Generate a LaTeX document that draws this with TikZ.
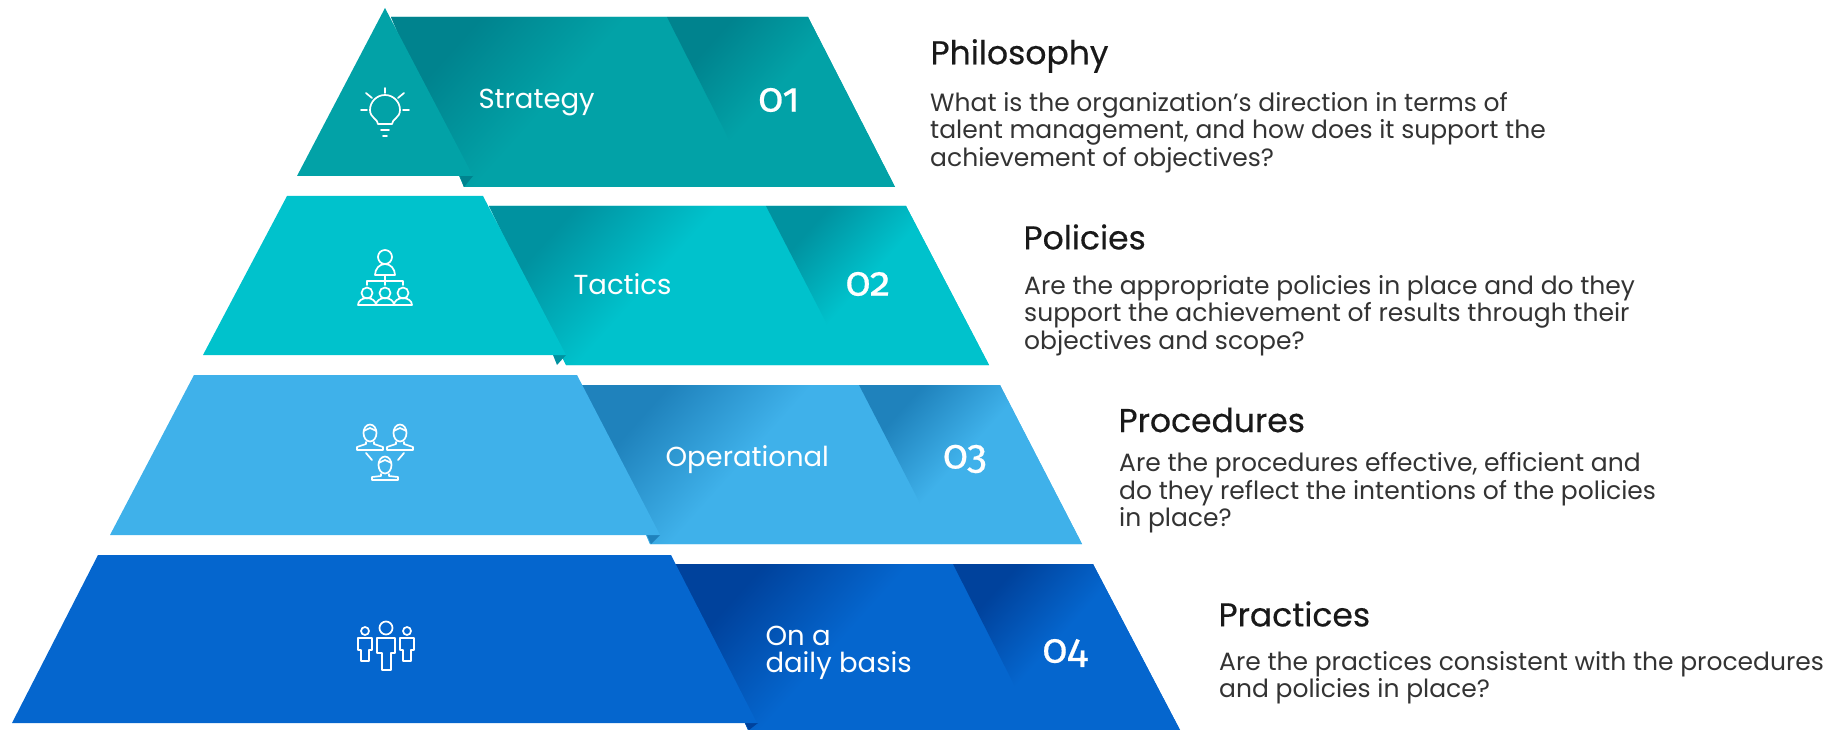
\documentclass[tikz,border=0pt]{standalone}
\usepackage{fontspec}
\setmainfont{Poppins}
\newfontfamily\headfont[FakeBold=0.4]{Poppins}
\newfontfamily\numfont[Numbers=OldStyle,FakeBold=0.5]{Fira Sans}
\definecolor{tealbase}{HTML}{02A2A7}
\definecolor{tealdark}{HTML}{00838E}
\definecolor{cyanbase}{HTML}{00C2CC}
\definecolor{cyandark}{HTML}{0092A0}
\definecolor{skybase}{HTML}{3FB1EA}
\definecolor{skydark}{HTML}{1F82BC}
\definecolor{bluebase}{HTML}{0566CE}
\definecolor{bluedark}{HTML}{00429C}
\colorlet{foldstart}{tealdark}
\colorlet{foldend}{tealbase}
\pgfdeclarehorizontalshading[foldstart,foldend]{foldfade}{100bp}{
  color(0bp)=(foldstart); color(27bp)=(foldstart); color(47bp)=(foldend); color(100bp)=(foldend)}
\tikzset{
  fold/.style n args={2}{/utils/exec={\colorlet{foldstart}{#1}\colorlet{foldend}{#2}}, shading=foldfade, shading angle=-42},
  icon/.style={draw=white, line width=1.7pt, line cap=round, line join=round},
  band/.style={text=white, font=\fontsize{27.5}{27}\selectfont, anchor=west, align=left},
  rank/.style={text=white, font=\numfont\fontsize{41}{42}\selectfont},
  head/.style={text=black!90, font=\headfont\fontsize{33}{35}\selectfont, anchor=west},
  body/.style={text=black!80, font=\fontsize{25}{27.7}\selectfont, anchor=north west, align=left, inner sep=0pt}
}
\begin{document}
\begin{tikzpicture}[x=1pt, y=-1pt]
  \useasboundingbox (0, 0) rectangle (1831, 730);

  % tier 1
  \fill [tealbase] (391, 17) -- (808, 17) -- (895, 187) -- (464, 187) -- cycle;
  \shade [fold={tealdark}{tealbase}] (391, 17) -- (667, 17) -- (753, 187) -- (464, 187) -- cycle;
  \shade [fold={tealdark}{tealbase}] (667, 17) -- (808, 17) -- (895, 187) -- (753, 187) -- cycle;
  \fill [tealdark] (460, 176) -- (473, 176) -- (464, 187) -- cycle;
  \fill [tealbase] (385, 8) -- (473, 176) -- (297, 176) -- cycle;

  % tier 2
  \fill [cyanbase] (489, 206) -- (906, 206) -- (989, 365) -- (566, 365) -- cycle;
  \shade [fold={cyandark}{cyanbase}] (489, 206) -- (766, 206) -- (848, 365) -- (566, 365) -- cycle;
  \shade [fold={cyandark}{cyanbase}] (766, 206) -- (906, 206) -- (989, 365) -- (848, 365) -- cycle;
  \fill [cyandark] (553, 355) -- (566, 355) -- (557, 365) -- cycle;
  \fill [cyanbase] (287, 196) -- (483, 196) -- (566, 355) -- (203, 355) -- cycle;

  % tier 3
  \fill [skybase] (582, 385) -- (1000, 385) -- (1082, 544) -- (650, 544) -- cycle;
  \shade [fold={skydark}{skybase}] (582, 385) -- (859, 385) -- (941, 544) -- (650, 544) -- cycle;
  \shade [fold={skydark}{skybase}] (859, 385) -- (1000, 385) -- (1082, 544) -- (941, 544) -- cycle;
  \fill [skydark] (647, 535) -- (660, 535) -- (651, 544) -- cycle;
  \fill [skybase] (194, 375) -- (577, 375) -- (660, 535) -- (110, 535) -- cycle;

  % tier 4
  \fill [bluebase] (675, 564) -- (1093, 564) -- (1180, 730) -- (748, 730) -- cycle;
  \shade [fold={bluedark}{bluebase}] (675, 564) -- (953, 564) -- (1037, 730) -- (748, 730) -- cycle;
  \shade [fold={bluedark}{bluebase}] (953, 564) -- (1093, 564) -- (1180, 730) -- (1037, 730) -- cycle;
  \fill [bluedark] (745, 723) -- (758, 723) -- (749, 730) -- cycle;
  \fill [bluebase] (98, 555) -- (671, 555) -- (757, 723) -- (12, 723) -- cycle;

  % bulb
  \draw [icon] (378, 124) .. controls (378, 119) and (370, 118) .. (370, 110)
    arc [start angle=180, end angle=360, radius=15]
    .. controls (400, 118) and (392, 119) .. (392, 124) -- cycle;
  \draw [icon] (381, 130) -- (389, 130);
  \draw [icon] (383, 136) -- (387, 136);
  \draw [icon] (385, 88) -- (385, 93);
  \draw [icon] (366, 93) -- (372, 98);
  \draw [icon] (404, 93) -- (398, 98);
  \draw [icon] (361, 110) -- (367, 110);
  \draw [icon] (403, 110) -- (409, 110);

  % hierarchy
  \draw [icon] (385, 257) circle (7);
  \draw [icon] (375, 275) arc [start angle=180, end angle=360, x radius=10, y radius=11] -- cycle;
  \draw [icon] (385, 275) -- (385, 285);
  \draw [icon] (367, 285) -- (367, 281) -- (403, 281) -- (403, 285);
  \draw [icon] (367, 293) circle (5.5);
  \draw [icon] (385, 293) circle (5.5);
  \draw [icon] (403, 293) circle (5.5);
  \draw [icon] (358, 305) arc [start angle=180, end angle=360, x radius=9, y radius=7] -- cycle;
  \draw [icon] (376, 305) arc [start angle=180, end angle=360, x radius=9, y radius=7] -- cycle;
  \draw [icon] (394, 305) arc [start angle=180, end angle=360, x radius=9, y radius=7] -- cycle;

  % team
  \draw [icon] (370, 433) ellipse (6.5 and 8.5);
  \draw [icon] (363.5, 431) -- (370, 428) -- (376.5, 431);
  \draw [icon] (366, 442) -- (366, 444) -- (357, 447) -- (357, 450) -- (383, 450) -- (383, 447) -- (374, 444) -- (374, 442);
  \draw [icon] (400, 433) ellipse (6.5 and 8.5);
  \draw [icon] (393.5, 431) -- (400, 428) -- (406.5, 431);
  \draw [icon] (396, 442) -- (396, 444) -- (387, 447) -- (387, 450) -- (413, 450) -- (413, 447) -- (404, 444) -- (404, 442);
  \draw [icon] (385, 465) ellipse (6.5 and 8.5);
  \draw [icon] (378.5, 463) -- (385, 460) -- (391.5, 463);
  \draw [icon] (381, 474) -- (381, 476) -- (372, 477) -- (372, 480) -- (398, 480) -- (398, 477) -- (389, 476) -- (389, 474);
  \draw [icon] (366, 453) -- (372, 460);
  \draw [icon] (404, 453) -- (398, 460);

  % people
  \draw [icon] (365, 631) circle (4);
  \draw [icon] (358, 638) -- (372, 638) -- (372, 650) -- (369, 650) -- (369, 661) -- (361, 661) -- (361, 650) -- (358, 650) -- cycle;
  \draw [icon] (386, 628) circle (6.5);
  \draw [icon] (377, 638) -- (395, 638) -- (395, 653) -- (391, 653) -- (391, 670) -- (382, 670) -- (382, 653) -- (377, 653) -- cycle;
  \draw [icon] (407, 631) circle (4);
  \draw [icon] (400, 638) -- (414, 638) -- (414, 650) -- (411, 650) -- (411, 661) -- (403, 661) -- (403, 650) -- (400, 650) -- cycle;

  \node [band] (strategy) at (475, 103) {Strategy};
  \node [rank] (rank1) at (779, 100) {01};
  \node [band] (tactics) at (570, 284) {Tactics};
  \node [rank] (rank2) at (868, 284) {02};
  \node [band] (operational) at (662, 460) {Operational};
  \node [rank] (rank3) at (965, 459) {03};
  \node [band] (daily) at (762, 653) {On a\\daily basis};
  \node [rank] (rank4) at (1065, 653) {04};

  \node [head] (philosophy) at (927, 56) {Philosophy};
  \node [body] (philosophytext) at (930, 92) {What is the organization's direction in terms of\\talent management, and how does it support the\\achievement of objectives?};

  \node [head] (policies) at (1020, 237) {Policies};
  \node [body] (policiestext) at (1024, 275) {Are the appropriate policies in place and do they\\support the achievement of results through their\\objectives and scope?};

  \node [head] (procedures) at (1115, 420) {Procedures};
  \node [body] (procedurestext) at (1119, 452) {Are the procedures effective, efficient and\\do they reflect the intentions of the policies\\in place?};

  \node [head] (practices) at (1215, 614) {Practices};
  \node [body] (practicestext) at (1219, 651) {Are the practices consistent with the procedures\\and policies in place?};
\end{tikzpicture}
\end{document}
